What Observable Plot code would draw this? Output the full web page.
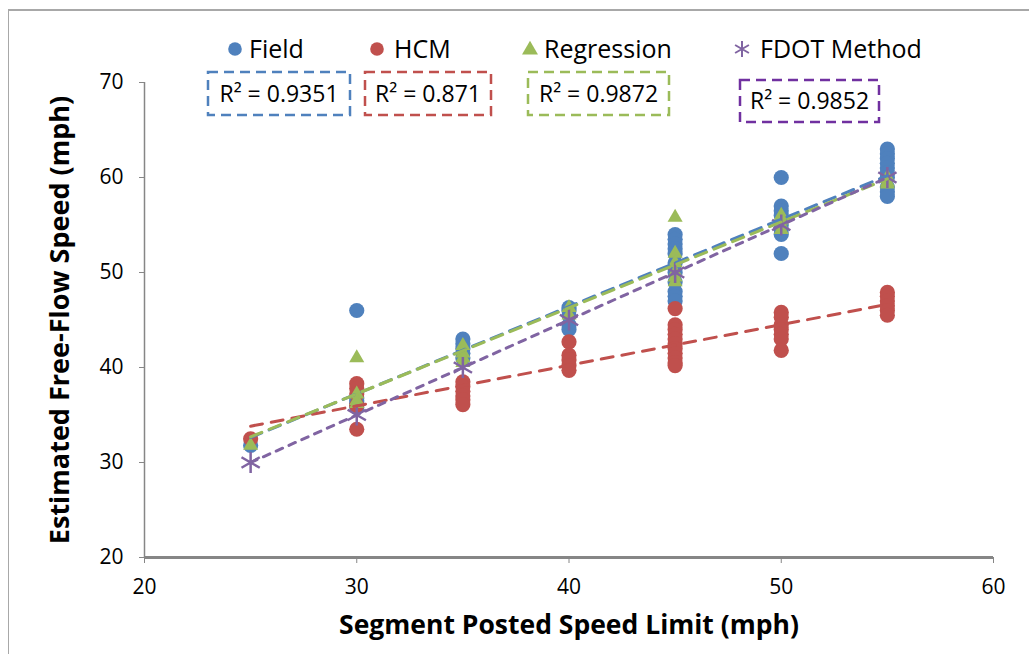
<!DOCTYPE html>
<html>
<head>
<meta charset="utf-8">
<script src="https://cdn.jsdelivr.net/npm/d3@7"></script>
<script src="https://cdn.jsdelivr.net/npm/@observablehq/plot@0.6"></script>
<style>
  body { margin: 0; background: #fff; }
  #wrap { position: relative; width: 1029px; height: 654px; overflow: hidden; font-family: "Open Sans", Lato, sans-serif; }
  #border { position: absolute; left: 8px; top: 9px; width: 1100px; height: 800px; border-top: 2px solid #a8a8a8; border-left: 1.5px solid #a8a8a8; }
  #overlay { position: absolute; left: 0; top: 0; pointer-events: none; }
</style>
</head>
<body>
<div id="wrap"><div id="border"></div></div>
<script>
// ---- Data ----
const xTicks = [20, 30, 40, 50, 60];
const yTicks = [20, 30, 40, 50, 60, 70];

const fieldPoints = [
  [25, 31.8],
  [30, 46], [30, 36.8], [30, 36.5], [30, 36.2], [30, 35.8],
  [35, 43], [35, 42.5], [35, 42], [35, 41.5], [35, 41],
  [40, 46.3], [40, 46], [40, 45.5], [40, 44.5], [40, 44],
  [45, 54], [45, 53.5], [45, 53], [45, 52.5], [45, 52], [45, 51], [45, 50], [45, 49], [45, 48], [45, 47.5], [45, 47],
  [50, 60], [50, 57], [50, 56.5], [50, 56], [50, 55], [50, 54.5], [50, 54], [50, 52],
  [55, 63], [55, 62.5], [55, 62], [55, 61.5], [55, 61], [55, 60.5], [55, 60], [55, 59], [55, 58.5], [55, 58]
];
const hcmPoints = [
  [25, 32.5],
  [30, 38.3], [30, 37.8], [30, 37.2], [30, 36], [30, 33.5],
  [35, 38.5], [35, 38], [35, 37.5], [35, 37], [35, 36.6], [35, 36.1],
  [40, 42.7], [40, 41.3], [40, 40.8], [40, 40.2], [40, 39.7],
  [45, 46.2], [45, 44.5], [45, 44], [45, 43.5], [45, 43], [45, 42.5], [45, 42], [45, 41.5], [45, 41], [45, 40.5], [45, 40.2],
  [50, 45.8], [50, 45.3], [50, 44.5], [50, 44], [50, 43.5], [50, 43], [50, 41.8],
  [55, 47.9], [55, 47.5], [55, 47], [55, 46.5], [55, 46], [55, 45.5]
];
const regressionPoints = [
  [25, 31.8],
  [30, 41], [30, 37.2], [30, 36.5], [30, 36.2],
  [35, 42.3], [35, 41.5], [35, 41], [35, 40.5],
  [40, 46.3], [40, 45.5],
  [45, 55.8], [45, 52], [45, 51], [45, 50], [45, 49.5], [45, 49],
  [50, 56], [50, 55.5], [50, 55], [50, 54.5],
  [55, 60], [55, 59.5], [55, 59.3]
];
const fdotPoints = [
  [25, 30], [30, 35], [35, 40], [40, 45], [45, 50], [50, 55], [55, 60]
];
const seriesNames = ["Field", "HCM", "Regression", "FDOT Method"];
const r2Labels = ["R² = 0.9351", "R² = 0.871", "R² = 0.9872", "R² = 0.9852"];

// ---- Styles ----
const colors = ["#4F81BD", "#C0504D", "#9BBB59", "#8064A2"];
const boxColors = ["#4F81BD", "#C0504D", "#9BBB59", "#7030A0"];
const font = "'Open Sans', Lato, sans-serif";
const axisGray = "#868686";

const toRows = (arr) => arr.map(([x, y]) => ({x, y}));
const field = toRows(fieldPoints);
const hcm = toRows(hcmPoints);
const regr = toRows(regressionPoints);
const fdot = toRows(fdotPoints);

const trend = (data, color, dash) => Plot.linearRegressionY(data, {
  x: "x", y: "y", ci: 0, stroke: color, strokeWidth: 3,
  strokeDasharray: dash, strokeLinecap: "round"
});

const chart = Plot.plot({
  width: 1029, height: 654,
  marginLeft: 144, marginRight: 36, marginTop: 82, marginBottom: 97,
  style: {fontFamily: font, background: "transparent", color: "#000"},
  x: {domain: [20, 60]},
  y: {domain: [20, 70]},
  marks: [
    Plot.axisY({ticks: yTicks, tickSize: 5, tickPadding: 16, fontSize: 21, stroke: axisGray, fill: "#000", label: null}),
    Plot.axisX({ticks: xTicks, tickSize: 6, tickPadding: 16, fontSize: 21, stroke: axisGray, fill: "#000", label: null}),
    Plot.ruleX([20], {stroke: axisGray, strokeWidth: 1.5}),
    Plot.ruleY([20], {stroke: axisGray, strokeWidth: 3}),
    Plot.dot(field, {x: "x", y: "y", r: 7.6, fill: colors[0], symbol: "circle"}),
    Plot.dot(hcm, {x: "x", y: "y", r: 7.6, fill: colors[1], symbol: "circle"}),
    Plot.dot(regr, {x: "x", y: "y", r: 5.6, fill: colors[2], symbol: "triangle"}),
    Plot.dot(fdot, {x: "x", y: "y", r: 10, stroke: colors[3], strokeWidth: 2.5, symbol: "asterisk"}),
    trend(field, colors[0], "12,8"),
    trend(hcm, colors[1], "12,9"),
    trend(regr, colors[2], "12,8"),
    trend(fdot, colors[3], "7,7"),
    Plot.text(["Segment Posted Speed Limit (mph)"], {text: d => d, frameAnchor: "bottom", dy: 76, fontSize: 26.5, fontWeight: "bold", fill: "#000"}),
    Plot.text(["Estimated Free-Flow Speed (mph)"], {text: d => d, frameAnchor: "left", textAnchor: "middle", dx: -84, dy: 0, rotate: -90, fontSize: 27, fontWeight: "bold", fill: "#000"})
  ]
});
chart.style.position = "absolute";
chart.style.left = "0px";
chart.style.top = "0px";
document.getElementById("wrap").appendChild(chart);

// ---- Legend and R² annotation boxes (overlay) ----
const legendMarkerX = [235, 377, 530, 742];
const legendTextX = [249, 394, 544, 760];
const legendY = 49;
const boxes = [[208, 72, 350, 115], [365, 72, 491, 115], [528, 72, 669, 115], [740, 80, 879, 122]];
const symbols = ["circle", "circle", "triangle", "asterisk"];

const ov = d3.select("#wrap").append("svg").attr("id", "overlay")
  .attr("width", 1029).attr("height", 654)
  .style("font-family", font);

seriesNames.forEach((name, i) => {
  const mx = legendMarkerX[i];
  if (symbols[i] === "circle") {
    ov.append("circle").attr("cx", mx).attr("cy", legendY).attr("r", 6.8).attr("fill", colors[i]);
  } else if (symbols[i] === "triangle") {
    ov.append("path").attr("d", d3.symbol(d3.symbolTriangle, 110)()).attr("transform", `translate(${mx},${legendY + 1})`).attr("fill", colors[i]);
  } else {
    const r = 8;
    const p = d3.path();
    p.moveTo(0, -r); p.lineTo(0, r);
    p.moveTo(-r * 0.866, -r * 0.5); p.lineTo(r * 0.866, r * 0.5);
    p.moveTo(-r * 0.866, r * 0.5); p.lineTo(r * 0.866, -r * 0.5);
    ov.append("path").attr("d", p.toString()).attr("transform", `translate(${mx},${legendY})`)
      .attr("stroke", colors[i]).attr("stroke-width", 2).attr("fill", "none");
  }
  ov.append("text").attr("x", legendTextX[i]).attr("y", legendY).attr("dy", "0.36em")
    .attr("font-size", 25).attr("fill", "#000").text(name);

  const [x0, y0, x1, y1] = boxes[i];
  ov.append("rect").attr("x", x0).attr("y", y0).attr("width", x1 - x0).attr("height", y1 - y0)
    .attr("fill", "#fff").attr("stroke", boxColors[i]).attr("stroke-width", 2.5)
    .attr("stroke-dasharray", "10,6");
  ov.append("text").attr("x", (x0 + x1) / 2).attr("y", (y0 + y1) / 2).attr("dy", "0.36em")
    .attr("text-anchor", "middle").attr("font-size", 23).attr("fill", "#000").text(r2Labels[i]);
});
</script>
</body>
</html>
